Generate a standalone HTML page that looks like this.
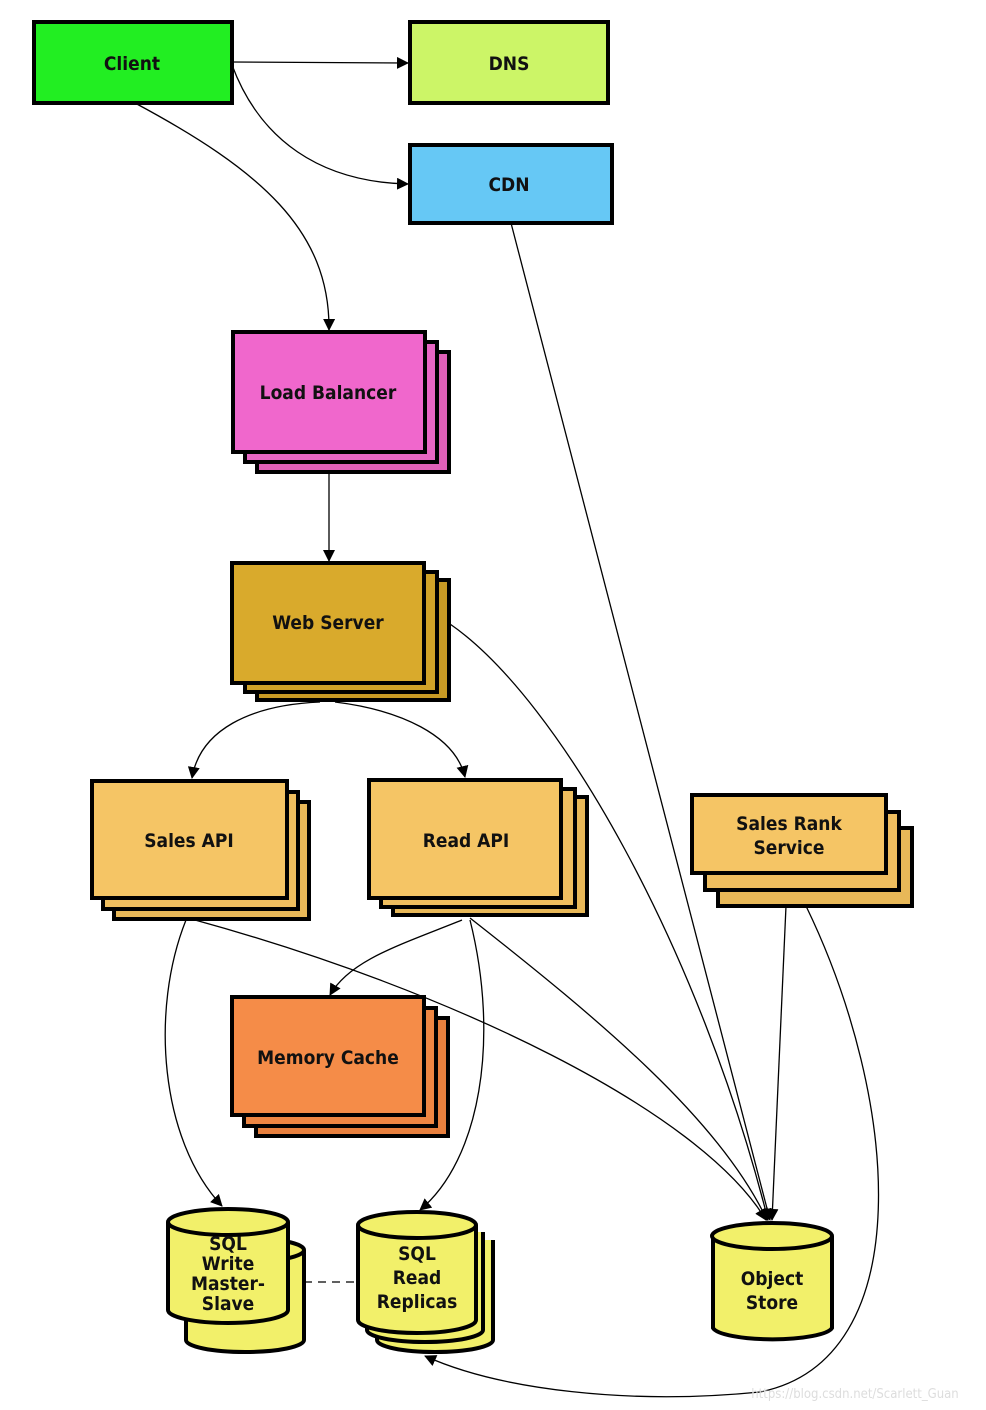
<!DOCTYPE html>
<html><head><style>body{margin:0;background:#fff}svg{display:block}text{font-family:"DejaVu Sans Condensed","Liberation Sans Narrow","Liberation Sans",sans-serif;font-weight:bold;font-size:19px;fill:#111;text-anchor:middle}</style></head>
<body>
<svg width="986" height="1410" viewBox="0 0 986 1410" xmlns="http://www.w3.org/2000/svg">
<defs><marker id="a" markerWidth="12" markerHeight="12" refX="11" refY="6" orient="auto" markerUnits="userSpaceOnUse"><path d="M0,0 L12,6 L0,12 Z" fill="#000"/></marker></defs>
<g fill="none" stroke="#000" stroke-width="1.3">
<path d="M232,62 L408,63" marker-end="url(#a)"/>
<path d="M232,65 C260,140 320,182 408,184" marker-end="url(#a)"/>
<path d="M135,103 C260,170 330,230 329,330" marker-end="url(#a)"/>
<path d="M329,472 L329,561" marker-end="url(#a)"/>
<path d="M320,702 C250,705 200,730 192,778" marker-end="url(#a)"/>
<path d="M335,702 C400,710 455,735 465,777" marker-end="url(#a)"/>
<path d="M511,223 L770,1220" marker-end="url(#a)"/>
<path d="M450,624 C560,700 700,950 768,1220" marker-end="url(#a)"/>
<path d="M195,920 C450,990 700,1110 766,1220" marker-end="url(#a)"/>
<path d="M470,918 C600,1020 720,1120 767,1220" marker-end="url(#a)"/>
<path d="M786,906 L772,1220" marker-end="url(#a)"/>
<path d="M462,920 C400,945 350,960 330,995" marker-end="url(#a)"/>
<path d="M186,920 C150,1010 160,1140 222,1206" marker-end="url(#a)"/>
<path d="M470,920 C500,1040 480,1160 420,1210" marker-end="url(#a)"/>
<path d="M806,906 C900,1100 920,1360 760,1392 C630,1405 500,1390 425,1356" marker-end="url(#a)"/>
<path d="M304,1282 L358,1282" stroke-dasharray="8,6"/>
</g>
<g stroke="#000" stroke-width="4">
<rect x="34" y="22" width="198" height="81" fill="#22ee22"/>
<rect x="410" y="22" width="198" height="81" fill="#ccf567"/>
<rect x="410" y="145" width="202" height="78" fill="#66c8f5"/>
<rect x="257" y="352" width="192" height="120" fill="#e060b8"/><rect x="245" y="342" width="192" height="120" fill="#e866c4"/><rect x="233" y="332" width="192" height="120" fill="#f067cc"/>
<rect x="257" y="580" width="192" height="120" fill="#c89a25"/><rect x="245" y="572" width="192" height="120" fill="#d0a228"/><rect x="232" y="563" width="192" height="120" fill="#d9aa2c"/>
<rect x="114" y="802" width="195" height="117" fill="#e8b858"/><rect x="103" y="792" width="195" height="117" fill="#efbe5f"/><rect x="92" y="781" width="195" height="117" fill="#f5c565"/>
<rect x="393" y="797" width="194" height="118" fill="#e8b858"/><rect x="381" y="789" width="194" height="118" fill="#efbe5f"/><rect x="369" y="780" width="192" height="118" fill="#f5c565"/>
<rect x="718" y="828" width="194" height="78" fill="#e8b858"/><rect x="705" y="812" width="194" height="78" fill="#efbe5f"/><rect x="692" y="795" width="194" height="78" fill="#f5c565"/>
<rect x="256" y="1018" width="192" height="118" fill="#e8803e"/><rect x="244" y="1008" width="192" height="118" fill="#ee8643"/><rect x="232" y="997" width="192" height="118" fill="#f58c48"/>
</g>
<g stroke="#000" stroke-width="4" fill="#f2f06a">
<path d="M186,1250 L186,1340 A59,12 0 0 0 304,1340 L304,1250"/><ellipse cx="245" cy="1250" rx="59" ry="12"/>
<path d="M168,1222 L168,1310 A60,13 0 0 0 288,1310 L288,1222"/><ellipse cx="228" cy="1222" rx="60" ry="13"/>
<path d="M377,1240 L377,1340 A58,12 0 0 0 493,1340 L493,1240"/>
<path d="M367,1232 L367,1330 A58,12 0 0 0 483,1330 L483,1232"/>
<path d="M358,1225 L358,1320 A59,13 0 0 0 476,1320 L476,1225"/><ellipse cx="417" cy="1225" rx="59" ry="13"/>
<path d="M713,1236 L713,1328 A60,13 0 0 0 832,1328 L832,1236"/><ellipse cx="772" cy="1236" rx="60" ry="13"/>
</g>
<text x="132" y="70">Client</text>
<text x="509" y="70">DNS</text>
<text x="509" y="191">CDN</text>
<text x="328" y="399">Load Balancer</text>
<text x="328" y="629">Web Server</text>
<text x="189" y="847">Sales API</text>
<text x="466" y="847">Read API</text>
<text x="789" y="830">Sales Rank</text>
<text x="789" y="854">Service</text>
<text x="328" y="1064">Memory Cache</text>
<g style="font-size:16px"><text x="228" y="1250">SQL</text><text x="228" y="1270">Write</text><text x="228" y="1290">Master-</text><text x="228" y="1310">Slave</text></g>
<text x="417" y="1260">SQL</text><text x="417" y="1284">Read</text><text x="417" y="1308">Replicas</text>
<text x="772" y="1285">Object</text><text x="772" y="1309">Store</text>
<text x="855" y="1398" style="font-size:13px;font-weight:normal;fill:#ddd">https://blog.csdn.net/Scarlett_Guan</text>
</svg>
</body></html>
